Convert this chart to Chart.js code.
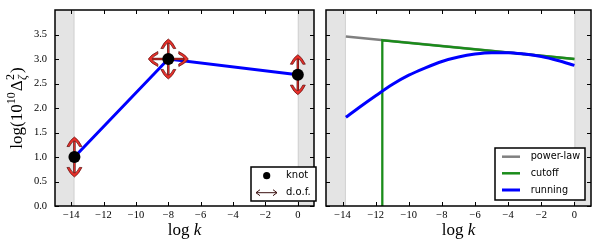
<!DOCTYPE html>
<html><head><meta charset="utf-8">
<script src="https://cdn.jsdelivr.net/npm/chart.js@4"></script>
<style>
html,body{margin:0;padding:0;background:#fff;width:609px;height:245px;overflow:hidden}
canvas{position:absolute;top:0}
#c1{left:0}
#c2{left:320px}
</style></head><body>
<canvas id="c1" width="320" height="245"></canvas>
<canvas id="c2" width="289" height="245"></canvas>
<script>
// ---- data ----
const xTicks = [-14, -12, -10, -8, -6, -4, -2, 0];
const yTicks = [0, 0.5, 1, 1.5, 2, 2.5, 3, 3.5];
const xRange = [-15, 1];
const yRange = [0, 4];
const shadeLow = [-15, -13.8];
const shadeHigh = [0, 1];
const knotX = [-13.8, -8, 0];
const knotY = [1.0, 3.0, 2.68];
const knotFreeX = [false, true, false];
const knotFreeY = [true, true, true];
const powerX = [-13.8, 0];
const powerY = [3.46, 3.00];
const cutoffX = [-11.6, -11.6, 0];
const cutoffY = [0, 3.38, 3.00];
const runX = [-13.8, -13, -12, -11, -10, -9, -8, -7, -6, -5, -4, -3, -2, -1, 0];
const runY = [1.81, 2.01, 2.25, 2.48, 2.67, 2.82, 2.95, 3.04, 3.10, 3.13, 3.13, 3.10, 3.05, 2.97, 2.87];
const legend1 = ['knot', 'd.o.f.'];
const legend2 = ['power-law', 'cutoff', 'running'];

const pts = (xs, ys) => xs.map((x, i) => ({x, y: ys[i]}));
const SERIF = '"Liberation Serif", "DejaVu Serif", serif';
const SANS = '"DejaVu Sans", sans-serif';
const fmt = v => (v < 0 ? '\u2212' + Math.abs(v) : String(v));

function scalesCfg(showY) {
  return {
    x: {
      type: 'linear', min: xRange[0], max: xRange[1],
      afterBuildTicks: s => { s.ticks = xTicks.map(v => ({value: v})); },
      afterFit: s => { s.height = 39; s.paddingLeft = 0; s.paddingRight = 0; },
      grid: {display: false, drawTicks: false}, border: {display: false},
      ticks: {font: {family: SERIF, size: 10.5}, color: '#000', padding: 3, maxRotation: 0, autoSkip: false,
              callback: v => fmt(v)}
    },
    y: {
      type: 'linear', min: yRange[0], max: yRange[1], display: showY,
      afterBuildTicks: s => { s.ticks = yTicks.map(v => ({value: v})); },
      afterFit: s => { s.width = showY ? 55 : 0; s.paddingTop = 0; s.paddingBottom = 0; },
      grid: {display: false, drawTicks: false}, border: {display: false},
      ticks: {font: {family: SERIF, size: 10.5}, color: '#000', padding: 8, autoSkip: false,
              callback: v => v.toFixed(1)}
    }
  };
}

function drawShade(chart) {
  const {ctx, chartArea: a, scales: {x}} = chart;
  ctx.save();
  ctx.beginPath(); ctx.rect(a.left, a.top, a.right - a.left, a.bottom - a.top); ctx.clip();
  [shadeLow, shadeHigh].forEach(r => {
    const x0 = x.getPixelForValue(r[0]), x1 = x.getPixelForValue(r[1]);
    ctx.fillStyle = '#e4e4e4';
    ctx.fillRect(x0, a.top, x1 - x0, a.bottom - a.top);
    ctx.fillStyle = '#d2d2d2';
    const edge = r === shadeLow ? x1 - 1 : x0;
    ctx.fillRect(edge, a.top, 1, a.bottom - a.top);
  });
  ctx.restore();
}

function drawFrame(chart) {
  const {ctx, chartArea: a, scales: {x, y}} = chart;
  ctx.save();
  ctx.strokeStyle = '#000';
  ctx.lineWidth = 1;
  ctx.beginPath();
  xTicks.forEach(v => {
    const p = Math.round(x.getPixelForValue(v)) + 0.5;
    ctx.moveTo(p, a.bottom); ctx.lineTo(p, a.bottom - 4);
    ctx.moveTo(p, a.top); ctx.lineTo(p, a.top + 4);
  });
  yTicks.forEach(v => {
    const p = Math.round(y.getPixelForValue(v)) + 0.5;
    ctx.moveTo(a.left, p); ctx.lineTo(a.left + 4, p);
    ctx.moveTo(a.right, p); ctx.lineTo(a.right - 4, p);
  });
  ctx.stroke();
  ctx.lineWidth = 1.5;
  ctx.strokeRect(a.left, a.top, a.right - a.left, a.bottom - a.top);
  const cx = (a.left + a.right) / 2;
  ctx.fillStyle = '#000';
  ctx.textBaseline = 'alphabetic';
  ctx.font = '17px ' + SERIF;
  const wLog = ctx.measureText('log ').width;
  ctx.font = 'italic 17px ' + SERIF;
  const wK = ctx.measureText('k').width;
  const x0 = cx - (wLog + wK) / 2;
  ctx.font = '17px ' + SERIF;
  ctx.fillText('log ', x0, 235);
  ctx.font = 'italic 17px ' + SERIF;
  ctx.fillText('k', x0 + wLog, 235);
  ctx.restore();
}

function drawYTitle(chart) {
  const {ctx, chartArea: a} = chart;
  const cy = (a.top + a.bottom) / 2, cx = 17;
  ctx.save();
  ctx.translate(cx, cy); ctx.rotate(-Math.PI / 2);
  ctx.fillStyle = '#000';
  ctx.textBaseline = 'alphabetic';
  const big = '17px ' + SERIF, small = '12px ' + SERIF, smallI = 'italic 12px ' + SERIF;
  ctx.font = big; const w1 = ctx.measureText('log(10').width;
  ctx.font = small; const w2 = ctx.measureText('10').width + 1;
  ctx.font = big; const w3 = ctx.measureText('\u0394').width;
  ctx.font = small; const w4a = ctx.measureText('2').width;
  ctx.font = smallI; const w4b = ctx.measureText('\u03B6').width;
  const w4 = Math.max(w4a, w4b) + 1.5;
  ctx.font = big; const w5 = ctx.measureText(')').width;
  const tot = w1 + w2 + w3 + w4 + w5;
  let x = -tot / 2; const b = 5;
  ctx.font = big; ctx.fillText('log(10', x, b); x += w1;
  ctx.font = small; ctx.fillText('10', x, b - 7); x += w2;
  ctx.font = big; ctx.fillText('\u0394', x, b); x += w3;
  ctx.font = small; ctx.fillText('2', x + 0.5, b - 8);
  ctx.font = smallI; ctx.fillText('\u03B6', x + 0.5, b + 4); x += w4;
  ctx.font = big; ctx.fillText(')', x, b);
  ctx.restore();
}

function arrowHead(ctx, tx, ty, ux, uy) {
  const vx = -uy, vy = ux;
  const P = (u, v) => [tx + u * ux + v * vx, ty + u * uy + v * vy];
  ctx.beginPath();
  ctx.moveTo(...P(0, 0));
  ctx.quadraticCurveTo(...P(-2.5, -4.2), ...P(-9.5, -7.5));
  ctx.lineTo(...P(-9.6, -5.0));
  ctx.quadraticCurveTo(...P(-4.8, -2.6), ...P(-4.2, -0.8));
  ctx.lineTo(...P(-4.2, 0.8));
  ctx.quadraticCurveTo(...P(-4.8, 2.6), ...P(-9.6, 5.0));
  ctx.lineTo(...P(-9.5, 7.5));
  ctx.quadraticCurveTo(...P(-2.5, 4.2), ...P(0, 0));
  ctx.closePath();
  ctx.fillStyle = '#e8302a';
  ctx.fill();
  ctx.lineWidth = 0.7;
  ctx.strokeStyle = '#5a1010';
  ctx.stroke();
}

function dofArrow(ctx, x0, y0, ux, uy, len) {
  const tx = x0 + ux * len, ty = y0 + uy * len;
  const sx = tx - ux * 4.2, sy = ty - uy * 4.2;
  ctx.lineCap = 'butt';
  ctx.strokeStyle = '#5a1010'; ctx.lineWidth = 2.4;
  ctx.beginPath(); ctx.moveTo(x0, y0); ctx.lineTo(sx, sy); ctx.stroke();
  ctx.strokeStyle = '#e8302a'; ctx.lineWidth = 1;
  ctx.beginPath(); ctx.moveTo(x0, y0); ctx.lineTo(sx, sy); ctx.stroke();
  arrowHead(ctx, tx, ty, ux, uy);
}

function drawArrows(chart) {
  const {ctx, scales: {x, y}} = chart;
  ctx.save();
  knotX.forEach((kx, i) => {
    const px = x.getPixelForValue(kx), py = y.getPixelForValue(knotY[i]);
    if (knotFreeY[i]) { dofArrow(ctx, px, py, 0, -1, 20); dofArrow(ctx, px, py, 0, 1, 20); }
    if (knotFreeX[i]) { dofArrow(ctx, px, py, -1, 0, 20); dofArrow(ctx, px, py, 1, 0, 20); }
  });
  ctx.restore();
}

function legendBox(ctx, x, y, w, h) {
  ctx.fillStyle = '#fff';
  ctx.fillRect(x, y, w, h);
  ctx.strokeStyle = '#000'; ctx.lineWidth = 1.5;
  ctx.strokeRect(x, y, w, h);
}

function drawLegend1(chart) {
  const {ctx} = chart;
  ctx.save();
  legendBox(ctx, 251, 167, 65, 34);
  ctx.fillStyle = '#000';
  ctx.beginPath(); ctx.arc(266.7, 175.7, 3.6, 0, Math.PI * 2); ctx.fill();
  const yA = 192.7, xa = 256, xb = 277;
  ctx.strokeStyle = '#3a1010'; ctx.lineWidth = 1;
  ctx.beginPath();
  ctx.moveTo(xa, yA); ctx.lineTo(xb, yA);
  ctx.moveTo(xa + 4, yA - 3); ctx.lineTo(xa, yA); ctx.lineTo(xa + 4, yA + 3);
  ctx.moveTo(xb - 4, yA - 3); ctx.lineTo(xb, yA); ctx.lineTo(xb - 4, yA + 3);
  ctx.stroke();
  ctx.fillStyle = '#000';
  ctx.font = '10px ' + SANS;
  ctx.textBaseline = 'middle';
  ctx.fillText(legend1[0], 286, 175.7);
  ctx.fillText(legend1[1], 286, 192.7);
  ctx.restore();
}

function drawLegend2(chart) {
  const {ctx} = chart;
  ctx.save();
  legendBox(ctx, 175, 148, 90, 52);
  const cols = ['#808080', '#1a8c1a', '#0000ff'];
  const ws = [2.5, 2.5, 3];
  const ys = [156.7, 173.3, 190];
  ys.forEach((yy, i) => {
    ctx.strokeStyle = cols[i]; ctx.lineWidth = ws[i];
    ctx.beginPath(); ctx.moveTo(182, yy); ctx.lineTo(200, yy); ctx.stroke();
    ctx.fillStyle = '#000';
    ctx.font = '9.7px ' + SANS;
    ctx.textBaseline = 'middle';
    ctx.fillText(legend2[i], 210.7, yy);
  });
  ctx.restore();
}

const common = {
  responsive: false, animation: false, events: [],
  plugins: {legend: {display: false}, tooltip: {enabled: false}}
};

new Chart(document.getElementById('c1'), {
  type: 'scatter',
  data: {
    datasets: [
      {data: pts(knotX, knotY), pointRadius: 6, pointBackgroundColor: '#000', pointBorderWidth: 0, showLine: false},
      {data: pts(knotX, knotY), showLine: true, borderColor: '#0000ff', borderWidth: 3, pointRadius: 0}
    ]
  },
  options: Object.assign({}, common, {
    layout: {padding: {top: 10, right: 1, left: 0, bottom: 0}},
    scales: scalesCfg(true)
  }),
  plugins: [{
    id: 'p1',
    beforeDatasetsDraw: c => drawShade(c),
    afterDatasetDraw: (c, args) => { if (args.index === 1) drawArrows(c); },
    afterDraw: c => { drawFrame(c); drawYTitle(c); drawLegend1(c); }
  }]
});

new Chart(document.getElementById('c2'), {
  type: 'scatter',
  data: {
    datasets: [
      {data: pts(runX, runY), showLine: true, borderColor: '#0000ff', borderWidth: 3, pointRadius: 0, cubicInterpolationMode: 'monotone'},
      {data: pts(cutoffX, cutoffY), showLine: true, borderColor: '#1a8c1a', borderWidth: 2.3, pointRadius: 0},
      {data: pts(powerX, powerY), showLine: true, borderColor: '#808080', borderWidth: 2.5, pointRadius: 0}
    ]
  },
  options: Object.assign({}, common, {
    layout: {padding: {top: 10, right: 18, left: 6, bottom: 0}},
    scales: scalesCfg(false)
  }),
  plugins: [{
    id: 'p2',
    beforeDatasetsDraw: c => drawShade(c),
    afterDraw: c => { drawFrame(c); drawLegend2(c); }
  }]
});
</script>
</body></html>
